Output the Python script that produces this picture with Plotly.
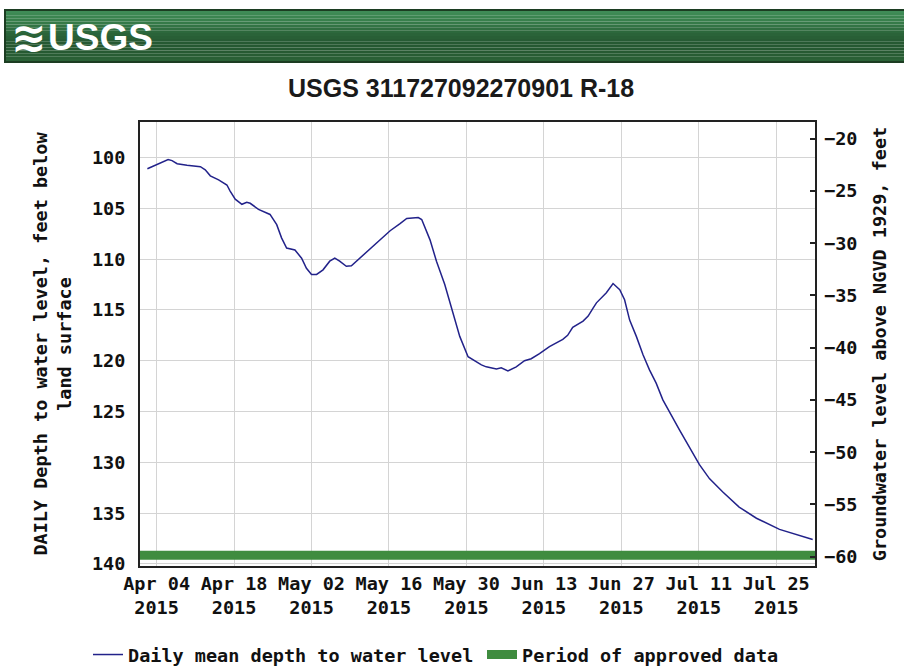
import plotly.graph_objects as go

# ---- data ----
dates = [
    "2015-04-02 08:00", "2015-04-04 00:00", "2015-04-06 02:00", "2015-04-06 19:00", "2015-04-07 17:00",
    "2015-04-09 12:00", "2015-04-11 22:00", "2015-04-12 19:00", "2015-04-13 17:00", "2015-04-15 05:00",
    "2015-04-16 17:00", "2015-04-17 07:00", "2015-04-18 05:00", "2015-04-19 10:00", "2015-04-20 07:00",
    "2015-04-20 22:00", "2015-04-22 10:00", "2015-04-24 12:00", "2015-04-25 17:00", "2015-04-26 14:00",
    "2015-04-27 12:00", "2015-04-29 00:00", "2015-04-30 05:00", "2015-05-01 02:00", "2015-05-02 00:00",
    "2015-05-02 22:00", "2015-05-04 02:00", "2015-05-05 07:00", "2015-05-06 05:00", "2015-05-07 02:00",
    "2015-05-08 07:00", "2015-05-09 05:00", "2015-05-11 07:00", "2015-05-13 19:00", "2015-05-16 05:00",
    "2015-05-18 00:00", "2015-05-19 05:00", "2015-05-21 07:00", "2015-05-21 22:00", "2015-05-23 10:00",
    "2015-05-24 14:00", "2015-05-26 02:00", "2015-05-27 14:00", "2015-05-28 19:00", "2015-05-30 07:00",
    "2015-05-31 05:00", "2015-06-01 17:00", "2015-06-02 14:00", "2015-06-04 10:00", "2015-06-05 07:00",
    "2015-06-06 12:00", "2015-06-08 00:00", "2015-06-09 12:00", "2015-06-10 17:00", "2015-06-12 05:00",
    "2015-06-14 00:00", "2015-06-16 10:00", "2015-06-17 07:00", "2015-06-18 05:00", "2015-06-20 02:00",
    "2015-06-21 00:00", "2015-06-21 22:00", "2015-06-22 12:00", "2015-06-24 07:00", "2015-06-25 12:00",
    "2015-06-26 17:00", "2015-06-27 14:00", "2015-06-28 12:00", "2015-06-29 17:00", "2015-06-30 22:00",
    "2015-07-02 02:00", "2015-07-03 07:00", "2015-07-04 12:00", "2015-07-07 12:00", "2015-07-09 14:00",
    "2015-07-11 02:00", "2015-07-12 22:00", "2015-07-15 07:00", "2015-07-18 07:00", "2015-07-21 10:00",
    "2015-07-25 14:00", "2015-07-29 05:00", "2015-07-31 14:00",
]
depth_ft = [
    101.1, 100.7, 100.2, 100.3, 100.6,
    100.75, 100.9, 101.2, 101.8, 102.2,
    102.7, 103.3, 104.1, 104.6, 104.4,
    104.5, 105.1, 105.6, 106.6, 107.9,
    108.9, 109.1, 109.9, 110.9, 111.5,
    111.5, 111.05, 110.2, 109.9, 110.2,
    110.7, 110.65, 109.6, 108.4, 107.2,
    106.5, 106.0, 105.9, 106.1, 108.1,
    110.2, 112.5, 115.3, 117.6, 119.6,
    119.9, 120.4, 120.6, 120.8, 120.7,
    121.0, 120.6, 120.0, 119.8, 119.3,
    118.6, 117.9, 117.5, 116.7, 116.1,
    115.6, 114.8, 114.3, 113.3, 112.4,
    113.0, 114.0, 116.0, 117.6, 119.4,
    120.9, 122.2, 123.85, 126.8, 128.8,
    130.2, 131.6, 132.9, 134.4, 135.5,
    136.6, 137.2, 137.6,
]
approved_dates = ["2015-04-01", "2015-08-01"]
approved_level = [139.15, 139.15]

x_tick_dates = ["2015-04-04", "2015-04-18", "2015-05-02", "2015-05-16", "2015-05-30",
                "2015-06-13", "2015-06-27", "2015-07-11", "2015-07-25"]
x_tick_text = ["Apr 04<br>2015", "Apr 18<br>2015", "May 02<br>2015", "May 16<br>2015",
               "May 30<br>2015", "Jun 13<br>2015", "Jun 27<br>2015", "Jul 11<br>2015",
               "Jul 25<br>2015"]
left_ticks = [100, 105, 110, 115, 120, 125, 130, 135, 140]
right_ticks = [-20, -25, -30, -35, -40, -45, -50, -55, -60]

title_text = "USGS 311727092270901 R-18"
left_title = "DAILY Depth to water level, feet below<br>land surface"
right_title = "Groundwater level above NGVD 1929, feet"

MONO = "DejaVu Sans Mono, Liberation Mono, monospace"
SANS = "Liberation Sans, Arial, sans-serif"
TXT = "#111111"

W, H = 904, 666
L, R, T, B = 140, 89, 122, 100
PW, PH = W - L - R, H - T - B


def px2x(px):
    return (px - L) / PW


def py2y(py):
    return (H - B - py) / PH


fig = go.Figure()
fig.add_trace(go.Scatter(
    x=dates, y=depth_ft, mode="lines", name="Daily mean depth to water level",
    line=dict(color="#22228a", width=1.5), legend="legend",
))
fig.add_trace(go.Scatter(
    x=approved_dates, y=approved_level, mode="lines", name="Period of approved data",
    line=dict(color="#3f8c3f", width=9), legend="legend2",
))
# empty trace so the right-hand (altitude) axis is drawn
fig.add_trace(go.Scatter(x=[], y=[], yaxis="y2", showlegend=False, hoverinfo="skip"))

tick_font = dict(family=MONO, size=18.5, weight="bold", color=TXT)
legend_common = dict(orientation="h", xref="container", yref="container",
                     xanchor="left", y=1 - 655 / H, yanchor="middle",
                     font=tick_font, itemwidth=30, tracegroupgap=0,
                     bgcolor="rgba(0,0,0,0)", borderwidth=0)

fig.update_layout(
    template="none",
    width=W, height=H,
    margin=dict(l=L, r=R, t=T, b=B, autoexpand=False),
    paper_bgcolor="white", plot_bgcolor="white",
    font=dict(family=MONO, size=18.5, color=TXT, weight="bold"),
    showlegend=True,
    legend=dict(x=88 / W, **legend_common),
    legend2=dict(x=482 / W, **legend_common),
    xaxis=dict(
        type="date", range=["2015-04-01", "2015-08-01"], automargin=False,
        tickmode="array", tickvals=x_tick_dates, ticktext=x_tick_text,
        showgrid=True, gridcolor="#d4d4d4", gridwidth=1,
        showline=True, linecolor="#222222", linewidth=2, mirror=True,
        ticks="", zeroline=False, tickfont=tick_font,
    ),
    yaxis=dict(
        range=[140.2, 96.5], tickmode="array", tickvals=left_ticks, automargin=False,
        showgrid=True, gridcolor="#d4d4d4", gridwidth=1,
        showline=True, linecolor="#222222", linewidth=2, mirror=True,
        ticks="", zeroline=False, tickfont=tick_font, ticklabelstandoff=9,
        title=dict(text=left_title, standoff=15, font=tick_font),
    ),
    yaxis2=dict(
        overlaying="y", side="right", anchor="x", automargin=False,
        range=[-60.9, -18.4], tickmode="array", tickvals=right_ticks,
        showgrid=False, zeroline=False, showline=False,
        ticks="inside", ticklen=5, tickwidth=2, tickcolor="#222222",
        tickfont=tick_font, ticklabelstandoff=8,
        title=dict(text=right_title, standoff=16, font=tick_font),
    ),
)

# header banner (vertical gradient made of thin strips)
shapes = []
banner_cols = ["#3f8c57", "#3d8953", "#3b8550", "#38804c", "#357a48", "#327444",
               "#2f6e40", "#2c683c", "#2a6339", "#285f36", "#275b34", "#265932",
               "#255831", "#255831", "#265a32", "#275c33", "#295f35", "#2b6237"]
n = len(banner_cols)
b_top, b_bot = 10, 62
for i, c in enumerate(banner_cols):
    shapes.append(dict(type="rect", xref="paper", yref="paper",
                       x0=px2x(5), x1=px2x(910),
                       y0=py2y(b_top + (b_bot - b_top) * (i + 1) / n),
                       y1=py2y(b_top + (b_bot - b_top) * i / n),
                       line=dict(width=0), fillcolor=c, layer="above"))
shapes.append(dict(type="rect", xref="paper", yref="paper", x0=px2x(5), x1=px2x(910),
                   y0=py2y(b_bot), y1=py2y(b_top), line=dict(color="#1c3d22", width=2),
                   fillcolor="rgba(0,0,0,0)", layer="above"))
fig.update_layout(shapes=shapes)

fig.add_annotation(xref="paper", yref="paper", x=px2x(9), y=py2y(37),
                   xanchor="left", yanchor="middle", showarrow=False,
                   text="<b>≋</b>", font=dict(family="DejaVu Sans", size=42, color="white"))
fig.add_annotation(xref="paper", yref="paper", x=px2x(46), y=py2y(38),
                   xanchor="left", yanchor="middle", showarrow=False,
                   text="<b>USGS</b>", font=dict(family=SANS, size=37, color="white"))
fig.add_annotation(xref="paper", yref="paper", x=px2x(461), y=py2y(88),
                   xanchor="center", yanchor="middle", showarrow=False,
                   text="<b>" + title_text + "</b>",
                   font=dict(family=SANS, size=25, color="#1a1a1a"))

fig.write_html("out.html", config={"displayModeBar": False},
               post_script="document.body.style.margin='0px';")
